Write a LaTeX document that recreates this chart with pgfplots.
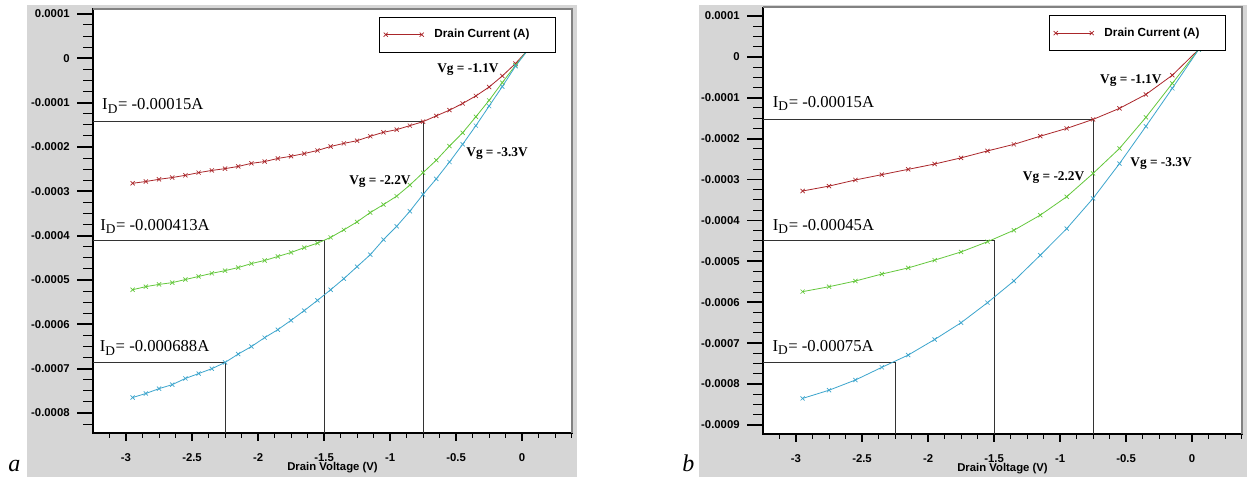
\documentclass[border=0pt]{standalone}
\usepackage{fontspec}
\setmainfont{Liberation Serif}
\setsansfont{Liberation Sans}
\usepackage{pgfplots}
\usepackage{pgfplotstable}
\pgfplotsset{compat=1.18}

\definecolor{bggray}{RGB}{214,214,214}
\definecolor{framegray}{RGB}{130,130,130}
\definecolor{cred}{RGB}{170,38,42}
\definecolor{cgreen}{RGB}{100,200,60}
\definecolor{cblue}{RGB}{60,165,205}

% x = drain voltage (V), r/g/b = drain current (A) for Vg = -1.1/-2.2/-3.3 V
\pgfplotstableread{
x      r         g         b
-2.95 -2.82e-4  -5.22e-4  -7.65e-4
-2.85 -2.78e-4  -5.15e-4  -7.56e-4
-2.75 -2.73e-4  -5.10e-4  -7.45e-4
-2.65 -2.69e-4  -5.06e-4  -7.36e-4
-2.55 -2.64e-4  -4.99e-4  -7.22e-4
-2.45 -2.58e-4  -4.92e-4  -7.11e-4
-2.35 -2.53e-4  -4.85e-4  -7.00e-4
-2.25 -2.49e-4  -4.79e-4  -6.86e-4
-2.15 -2.44e-4  -4.72e-4  -6.67e-4
-2.05 -2.37e-4  -4.63e-4  -6.50e-4
-1.95 -2.33e-4  -4.56e-4  -6.30e-4
-1.85 -2.26e-4  -4.47e-4  -6.12e-4
-1.75 -2.21e-4  -4.38e-4  -5.91e-4
-1.65 -2.15e-4  -4.27e-4  -5.69e-4
-1.55 -2.08e-4  -4.17e-4  -5.46e-4
-1.45 -1.99e-4  -4.04e-4  -5.22e-4
-1.35 -1.92e-4  -3.87e-4  -4.97e-4
-1.25 -1.86e-4  -3.69e-4  -4.70e-4
-1.15 -1.76e-4  -3.48e-4  -4.43e-4
-1.05 -1.67e-4  -3.30e-4  -4.09e-4
-0.95 -1.61e-4  -3.11e-4  -3.79e-4
-0.85 -1.52e-4  -2.86e-4  -3.45e-4
-0.75 -1.43e-4  -2.58e-4  -3.07e-4
-0.65 -1.30e-4  -2.30e-4  -2.72e-4
-0.55 -1.17e-4  -1.98e-4  -2.34e-4
-0.45 -1.02e-4  -1.68e-4  -1.94e-4
-0.35 -0.85e-4  -1.32e-4  -1.52e-4
-0.25 -0.65e-4  -0.95e-4  -1.08e-4
-0.15 -0.40e-4  -0.55e-4  -0.64e-4
-0.05 -0.12e-4  -0.16e-4  -0.18e-4
 0.05  0.21e-4   0.21e-4   0.21e-4
}\dataA

\pgfplotstableread{
x      r         g         b
-2.95 -3.28e-4  -5.74e-4  -8.35e-4
-2.75 -3.16e-4  -5.62e-4  -8.15e-4
-2.55 -3.01e-4  -5.48e-4  -7.90e-4
-2.35 -2.88e-4  -5.31e-4  -7.59e-4
-2.15 -2.75e-4  -5.16e-4  -7.29e-4
-1.95 -2.62e-4  -4.97e-4  -6.91e-4
-1.75 -2.47e-4  -4.77e-4  -6.50e-4
-1.55 -2.30e-4  -4.52e-4  -6.01e-4
-1.35 -2.14e-4  -4.24e-4  -5.48e-4
-1.15 -1.94e-4  -3.87e-4  -4.85e-4
-0.95 -1.75e-4  -3.42e-4  -4.20e-4
-0.75 -1.53e-4  -2.85e-4  -3.46e-4
-0.55 -1.26e-4  -2.24e-4  -2.61e-4
-0.35 -0.92e-4  -1.48e-4  -1.70e-4
-0.15 -0.45e-4  -0.65e-4  -0.77e-4
 0.05  0.18e-4   0.18e-4   0.18e-4
}\dataB

\newcommand{\ID}{I$_{\mbox{\fontsize{10}{10}\selectfont D}}$}

\tikzset{
  annot/.style={anchor=base west, inner sep=0pt, font=\fontsize{12.5}{14}\selectfont},
  vg/.style={anchor=base west, inner sep=0pt, font=\bfseries\fontsize{10}{12}\selectfont},
}

\pgfplotsset{
  simstyle/.style={
    scale only axis,
    width=359.25pt,
    anchor=south west,
    xmin=-3.25, xmax=0.378,
    clip=false,
    axis background/.style={fill=white},
    axis line style={black, line width=0.9pt},
    tick align=outside,
    tick pos=left,
    major tick length=12pt,
    minor tick length=7.5pt,
    xtick style={/pgfplots/major tick length=6pt,/pgfplots/minor tick length=3.75pt},
    major tick style={black, line width=1.4pt},
    minor tick style={black, line width=0.75pt},
    xtick={-3,-2.5,-2,-1.5,-1,-0.5,0},
    xticklabels={-3,-2.5,-2,-1.5,-1,-0.5,0},
    minor xtick={-3.125,-2.875,-2.75,-2.625,-2.375,-2.25,-2.125,-1.875,-1.75,-1.625,-1.375,-1.25,-1.125,-0.875,-0.75,-0.625,-0.375,-0.25,-0.125,0.125,0.25,0.375},
    tick label style={font=\sffamily\bfseries\fontsize{8.5}{10}\selectfont},
    yticklabel style={xshift=-2pt},
    xlabel={Drain Voltage (V)},
    xlabel style={font=\sffamily\bfseries\fontsize{8.5}{10}\selectfont,
      at={(axis description cs:0.5,0)}, anchor=north, inner sep=0pt, yshift=-22pt},
    legend style={at={(0.967,0.981)}, anchor=north east, draw=black, line width=0.6pt,
      inner xsep=3pt, inner ysep=7pt, column sep=6pt,
      font=\sffamily\bfseries\fontsize{8.8}{10}\selectfont},
    legend image code/.code={\draw[##1, line width=0.6pt] plot coordinates {(0pt,0pt) (27pt,0pt)};},
    redline/.style={cred, line width=0.6pt, mark=x, mark size=2.2pt, mark options={line width=0.5pt}},
    greenline/.style={cgreen, line width=0.6pt, mark=x, mark size=2.2pt, mark options={line width=0.5pt}},
    blueline/.style={cblue, line width=0.6pt, mark=x, mark size=2.2pt, mark options={line width=0.5pt}},
    refline/.style={black!80, line width=0.75pt},
  },
}

\begin{document}
\begin{tikzpicture}
\path[use as bounding box] (0pt,0pt) rectangle (935.25pt,357.75pt);
\fill[bggray] (20.25pt,0pt) rectangle (432.75pt,354pt);
\fill[bggray] (524.25pt,0pt) rectangle (935.25pt,354pt);

% ---------------- panel a ----------------
\begin{axis}[simstyle,
  at={(69.75pt,33pt)},
  height=318pt,
  ymin=-8.45e-4, ymax=1.11e-4,
  ytick={-0.0008,-0.0007,-0.0006,-0.0005,-0.0004,-0.0003,-0.0002,-0.0001,0,0.0001},
  yticklabels={-0.0008,-0.0007,-0.0006,-0.0005,-0.0004,-0.0003,-0.0002,-0.0001,0,0.0001},
  minor ytick={-0.000825,-0.000775,-0.00075,-0.000725,-0.000675,-0.00065,-0.000625,-0.000575,-0.00055,-0.000525,-0.000475,-0.00045,-0.000425,-0.000375,-0.00035,-0.000325,-0.000275,-0.00025,-0.000225,-0.000175,-0.00015,-0.000125,-0.000075,-0.00005,-0.000025,0.000025,0.00005,0.000075},
]
\addplot[refline, forget plot] coordinates {(-3.25,-1.42e-4) (-0.75,-1.42e-4) (-0.75,-8.45e-4)};
\addplot[refline, forget plot] coordinates {(-3.25,-4.12e-4) (-1.5,-4.12e-4) (-1.5,-8.45e-4)};
\addplot[refline, forget plot] coordinates {(-3.25,-6.87e-4) (-2.25,-6.87e-4) (-2.25,-8.45e-4)};
\addplot[redline] table[x=x, y=r] {\dataA};
\addlegendentry{\makebox[86pt][l]{Drain Current (A)}}
\addplot[greenline, forget plot] table[x=x, y=g] {\dataA};
\addplot[blueline, forget plot] table[x=x, y=b] {\dataA};
\draw[framegray, line width=1.5pt] (rel axis cs:0,1) -- (rel axis cs:1,1) -- (rel axis cs:1,0);
\node[annot] at (axis cs:-3.182,-1.166e-4) {\ID= -0.00015A};
\node[annot] at (axis cs:-3.197,-3.877e-4) {\ID= -0.000413A};
\node[annot] at (axis cs:-3.2,-6.62e-4) {\ID= -0.000688A};
\node[vg] at (axis cs:-0.644,-0.316e-4) {Vg = -1.1V};
\node[vg] at (axis cs:-1.311,-2.858e-4) {Vg = -2.2V};
\node[vg] at (axis cs:-0.424,-2.22e-4) {Vg = -3.3V};
\end{axis}

% ---------------- panel b ----------------
\begin{axis}[simstyle,
  at={(572.25pt,32.25pt)},
  height=320pt,
  ymin=-9.22e-4, ymax=1.21e-4,
  ytick={-0.0009,-0.0008,-0.0007,-0.0006,-0.0005,-0.0004,-0.0003,-0.0002,-0.0001,0,0.0001},
  yticklabels={-0.0009,-0.0008,-0.0007,-0.0006,-0.0005,-0.0004,-0.0003,-0.0002,-0.0001,0,0.0001},
  minor ytick={-0.000875,-0.00085,-0.000825,-0.000775,-0.00075,-0.000725,-0.000675,-0.00065,-0.000625,-0.000575,-0.00055,-0.000525,-0.000475,-0.00045,-0.000425,-0.000375,-0.00035,-0.000325,-0.000275,-0.00025,-0.000225,-0.000175,-0.00015,-0.000125,-0.000075,-0.00005,-0.000025,0.000025,0.00005,0.000075},
]
\addplot[refline, forget plot] coordinates {(-3.25,-1.52e-4) (-0.75,-1.52e-4) (-0.75,-9.22e-4)};
\addplot[refline, forget plot] coordinates {(-3.25,-4.5e-4) (-1.5,-4.5e-4) (-1.5,-9.22e-4)};
\addplot[refline, forget plot] coordinates {(-3.25,-7.47e-4) (-2.25,-7.47e-4) (-2.25,-9.22e-4)};
\addplot[redline] table[x=x, y=r] {\dataB};
\addlegendentry{\makebox[86pt][l]{Drain Current (A)}}
\addplot[greenline, forget plot] table[x=x, y=g] {\dataB};
\addplot[blueline, forget plot] table[x=x, y=b] {\dataB};
\draw[framegray, line width=1.5pt] (rel axis cs:0,1) -- (rel axis cs:1,1) -- (rel axis cs:1,0);
\node[annot] at (axis cs:-3.177,-1.24e-4) {\ID= -0.00015A};
\node[annot] at (axis cs:-3.177,-4.24e-4) {\ID= -0.00045A};
\node[annot] at (axis cs:-3.18,-7.21e-4) {\ID= -0.00075A};
\node[vg] at (axis cs:-0.698,-0.65e-4) {Vg = -1.1V};
\node[vg] at (axis cs:-1.283,-3.015e-4) {Vg = -2.2V};
\node[vg] at (axis cs:-0.469,-2.69e-4) {Vg = -3.3V};
\end{axis}

\node[anchor=base west, inner sep=0pt, font=\itshape\fontsize{18}{20}\selectfont] at (6pt,3.75pt) {a};
\node[anchor=base west, inner sep=0pt, font=\itshape\fontsize{18}{20}\selectfont] at (511.5pt,3.75pt) {b};
\end{tikzpicture}
\end{document}
